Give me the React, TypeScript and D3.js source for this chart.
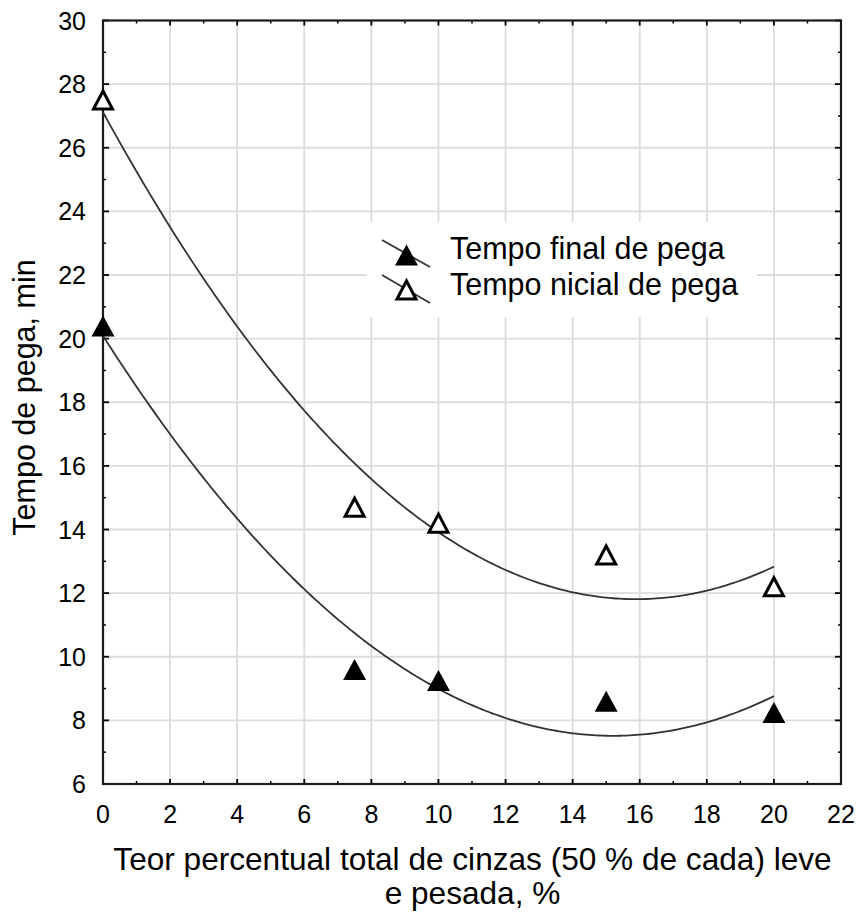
import React from "react";
import * as d3 from "d3";

const xValues = [0, 7.5, 10, 15, 20];
const finalSet = [20.4, 9.6, 9.25, 8.6, 8.25];
const initialSet = [27.5, 14.7, 14.2, 13.2, 12.2];
const xTicks = [0, 2, 4, 6, 8, 10, 12, 14, 16, 18, 20, 22];
const yTicks = [6, 8, 10, 12, 14, 16, 18, 20, 22, 24, 26, 28, 30];
const legendLabels = ["Tempo final de pega", "Tempo nicial de pega"];
const xLabelLines = ["Teor percentual total de cinzas (50 % de cada) leve", "e pesada, %"];
const yLabel = "Tempo de pega, min";

function quadFit(xs: number[], ys: number[]) {
  // least squares y = c + b x + a x^2
  const n = xs.length;
  const s = [0, 0, 0, 0, 0];
  const t = [0, 0, 0];
  for (let i = 0; i < n; i++) {
    const xv = xs[i], yv = ys[i];
    for (let k = 0; k < 5; k++) s[k] += Math.pow(xv, k);
    for (let k = 0; k < 3; k++) t[k] += yv * Math.pow(xv, k);
  }
  const M = [
    [s[0], s[1], s[2], t[0]],
    [s[1], s[2], s[3], t[1]],
    [s[2], s[3], s[4], t[2]],
  ];
  for (let i = 0; i < 3; i++) {
    let p = i;
    for (let r = i + 1; r < 3; r++) if (Math.abs(M[r][i]) > Math.abs(M[p][i])) p = r;
    [M[i], M[p]] = [M[p], M[i]];
    for (let r = 0; r < 3; r++) {
      if (r === i) continue;
      const f = M[r][i] / M[i][i];
      for (let c = i; c < 4; c++) M[r][c] -= f * M[i][c];
    }
  }
  const c0 = M[0][3] / M[0][0], b = M[1][3] / M[1][1], a = M[2][3] / M[2][2];
  return (xv: number) => c0 + b * xv + a * xv * xv;
}

const FONT = "'Liberation Sans', Arial, sans-serif";

export default function App() {
  const left = 103, right = 841, top = 20.5, bottom = 784;
  const x = d3.scaleLinear().domain([0, 22]).range([left, right]);
  const y = d3.scaleLinear().domain([6, 30]).range([bottom, top]);

  const fitF = quadFit(xValues, finalSet);
  const fitI = quadFit(xValues, initialSet);
  const xs = d3.range(0, 20.0001, 0.1);
  const lineF = d3.line<number>().x((d) => x(d)).y((d) => y(fitF(d)))(xs) || "";
  const lineI = d3.line<number>().x((d) => x(d)).y((d) => y(fitI(d)))(xs) || "";

  const minorX = d3.range(1, 22, 2);
  const minorY = d3.range(7, 30, 2);

  const filledTri = "M0,-10.5L11.5,10.5L-11.5,10.5Z";
  const openTri = "M0,-9L9.5,9L-9.5,9Z";

  return (
    <svg
      width={858}
      height={913}
      style={{ position: "absolute", left: 0, top: 0, background: "#fff" }}
      fontFamily={FONT}
    >
      <rect x={0} y={0} width={858} height={913} fill="#fff" />
      {/* grid */}
      {xTicks.slice(1, -1).map((t) => (
        <line key={"gx" + t} x1={x(t)} x2={x(t)} y1={top} y2={bottom} stroke="#dcdcdc" strokeWidth={1.8} />
      ))}
      {yTicks.slice(1, -1).map((t) => (
        <line key={"gy" + t} x1={left} x2={right} y1={y(t)} y2={y(t)} stroke="#dcdcdc" strokeWidth={1.8} />
      ))}
      {/* legend background */}
      <rect x={367} y={222} width={390} height={95} fill="#fff" />
      {/* ticks */}
      {xTicks.map((t) => (
        <g key={"tx" + t}>
          <line x1={x(t)} x2={x(t)} y1={bottom} y2={bottom - 5} stroke="#000" strokeWidth={1.8} />
          <line x1={x(t)} x2={x(t)} y1={top} y2={top + 5} stroke="#000" strokeWidth={1.8} />
        </g>
      ))}
      {minorX.map((t) => (
        <g key={"mx" + t}>
          <line x1={x(t)} x2={x(t)} y1={bottom} y2={bottom - 3} stroke="#000" strokeWidth={1.5} />
          <line x1={x(t)} x2={x(t)} y1={top} y2={top + 3} stroke="#000" strokeWidth={1.5} />
        </g>
      ))}
      {yTicks.map((t) => (
        <g key={"ty" + t}>
          <line x1={left} x2={left + 6} y1={y(t)} y2={y(t)} stroke="#000" strokeWidth={1.8} />
          <line x1={right} x2={right - 6} y1={y(t)} y2={y(t)} stroke="#000" strokeWidth={1.8} />
        </g>
      ))}
      {minorY.map((t) => (
        <g key={"my" + t}>
          <line x1={left} x2={left + 3} y1={y(t)} y2={y(t)} stroke="#000" strokeWidth={1.5} />
          <line x1={right} x2={right - 3} y1={y(t)} y2={y(t)} stroke="#000" strokeWidth={1.5} />
        </g>
      ))}
      {/* frame */}
      <rect x={left} y={top} width={right - left} height={bottom - top} fill="none" stroke="#1a1a1a" strokeWidth={2.2} />
      {/* tick labels */}
      {xTicks.map((t) => (
        <text key={"lx" + t} x={x(t)} y={823} textAnchor="middle" fontSize={25} fill="#000">
          {t}
        </text>
      ))}
      {yTicks.map((t) => (
        <text key={"ly" + t} x={86} y={y(t)} dy="0.36em" textAnchor="end" fontSize={25} fill="#000">
          {t}
        </text>
      ))}
      {/* fit curves */}
      <path d={lineF} fill="none" stroke="#333" strokeWidth={1.8} />
      <path d={lineI} fill="none" stroke="#333" strokeWidth={1.8} />
      {/* points */}
      {xValues.map((v, i) => (
        <path key={"pf" + i} d={filledTri} transform={`translate(${x(v)},${y(finalSet[i])})`} fill="#000" />
      ))}
      {xValues.map((v, i) => (
        <path
          key={"pi" + i}
          d={openTri}
          transform={`translate(${x(v)},${y(initialSet[i])})`}
          fill="#fff"
          stroke="#000"
          strokeWidth={3}
        />
      ))}
      {/* legend */}
      <line x1={382} y1={240} x2={430} y2={267} stroke="#333" strokeWidth={1.8} />
      <path d={filledTri} transform="translate(406.5,255)" fill="#000" />
      <text x={450} y={259} fontSize={30.5} fill="#000">
        {legendLabels[0]}
      </text>
      <line x1={382} y1={275} x2={430} y2={303} stroke="#333" strokeWidth={1.8} />
      <path d={openTri} transform="translate(406.5,290)" fill="#fff" stroke="#000" strokeWidth={3} />
      <text x={450} y={295} fontSize={30.5} fill="#000">
        {legendLabels[1]}
      </text>
      {/* axis labels */}
      <text x={472.5} y={870} textAnchor="middle" fontSize={31.6} fill="#000">
        {xLabelLines[0]}
      </text>
      <text x={472.5} y={904} textAnchor="middle" fontSize={31.6} fill="#000">
        {xLabelLines[1]}
      </text>
      <text transform={`translate(35,397.5) rotate(-90)`} textAnchor="middle" fontSize={30.5} fill="#000">
        {yLabel}
      </text>
    </svg>
  );
}
